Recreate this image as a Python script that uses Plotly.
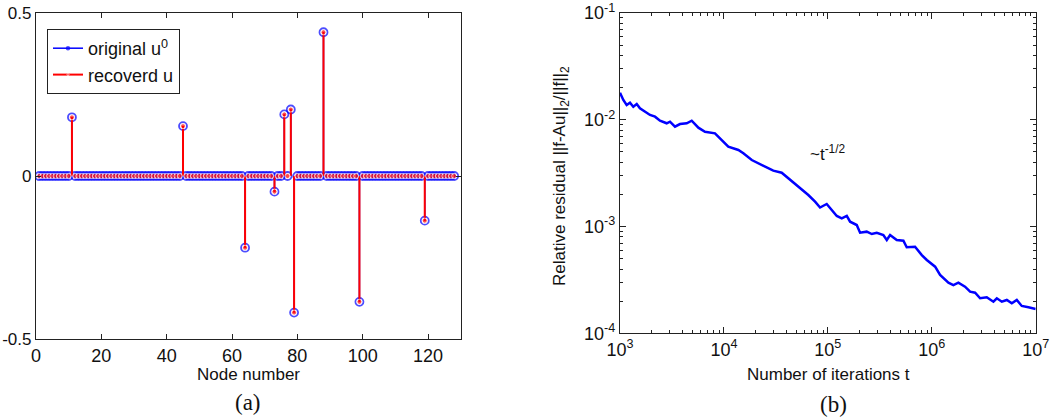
import plotly.graph_objects as go

# ---- data: panel (a) sparse recovery ----
nodes = list(range(1, 129))
spike_nodes = [11, 45, 64, 73, 76, 78, 79, 88, 99, 119]
spike_vals = [0.18, 0.153, -0.22, -0.048, 0.189, 0.204, -0.419, 0.441, -0.386, -0.137]
recovered_vals = [0.18, 0.153, -0.22, -0.048, 0.189, 0.204, -0.419, 0.441, -0.386, -0.137]

# ---- data: panel (b) relative residual vs iterations (log10 values) ----
log_iters = [3.000, 3.032, 3.064, 3.096, 3.128, 3.161, 3.192, 3.241, 3.289, 3.337,
             3.385, 3.449, 3.481, 3.529, 3.577, 3.642, 3.690, 3.754, 3.818, 3.914,
             3.979, 4.042, 4.139, 4.187, 4.268, 4.364, 4.412, 4.475, 4.556, 4.620,
             4.701, 4.749, 4.812, 4.877, 4.925, 4.989, 5.038, 5.086, 5.134, 5.182,
             5.214, 5.278, 5.310, 5.374, 5.423, 5.471, 5.534, 5.567, 5.599, 5.663,
             5.727, 5.759, 5.839, 5.904, 5.952, 6.032, 6.080, 6.160, 6.208, 6.256,
             6.320, 6.369, 6.417, 6.465, 6.529, 6.593, 6.626, 6.674, 6.722, 6.770,
             6.818, 6.866, 6.930, 6.978, 7.000]
log_residual = [-1.746, -1.815, -1.862, -1.840, -1.878, -1.852, -1.893, -1.924, -1.955, -1.971,
                -2.009, -2.033, -2.018, -2.065, -2.040, -2.033, -2.009, -2.074, -2.112, -2.127,
                -2.189, -2.252, -2.283, -2.314, -2.377, -2.424, -2.445, -2.477, -2.496, -2.548,
                -2.620, -2.658, -2.705, -2.767, -2.822, -2.789, -2.845, -2.901, -2.923, -2.901,
                -2.955, -2.986, -3.058, -3.048, -3.070, -3.058, -3.079, -3.126, -3.079, -3.126,
                -3.133, -3.194, -3.189, -3.267, -3.313, -3.376, -3.454, -3.526, -3.548, -3.526,
                -3.563, -3.610, -3.620, -3.672, -3.663, -3.704, -3.672, -3.704, -3.688, -3.719,
                -3.688, -3.744, -3.756, -3.766, -3.772]
iters = [10 ** v for v in log_iters]
residual = [10 ** v for v in log_residual]

x_ticks_a = [0, 20, 40, 60, 80, 100, 120]
y_ticks_a = [-0.5, 0, 0.5]
y_ticktext_a = ["-0.5", "0", "0.5"]
x_ticks_b = [1e3, 1e4, 1e5, 1e6, 1e7]
x_ticktext_b = ["10<sup>3</sup>", "10<sup>4</sup>", "10<sup>5</sup>", "10<sup>6</sup>", "10<sup>7</sup>"]
y_ticks_b = [1e-4, 1e-3, 1e-2, 1e-1]
y_ticktext_b = ["10<sup>-4</sup>", "10<sup>-3</sup>", "10<sup>-2</sup>", "10<sup>-1</sup>"]

FONT = "Liberation Sans, Arial, sans-serif"
SERIF = "Liberation Serif, Times New Roman, serif"
W, H = 1050, 418


def stem_xy(xn, vals, msize):
    xs, ys, sizes = [], [], []
    for n, v in zip(xn, vals):
        xs += [n, n, None]
        ys += [0, v, None]
        sizes += [0, msize, 0]
    return xs, ys, sizes


u0 = [0.0] * len(nodes)
u = [0.0] * len(nodes)
for n, v, r in zip(spike_nodes, spike_vals, recovered_vals):
    u0[n - 1] = v
    u[n - 1] = r

fig = go.Figure()

bx, by, bs = stem_xy(nodes, u0, 8)
fig.add_trace(go.Scatter(
    x=bx, y=by, mode="lines+markers", name="original u<sup>0</sup>",
    line=dict(color="#0000FF", width=1.5),
    marker=dict(symbol="circle-open", size=bs, color="#0000FF", line=dict(width=1.8)),
    xaxis="x", yaxis="y",
))
rx, ry, rs = stem_xy(nodes, u, 5)
fig.add_trace(go.Scatter(
    x=rx, y=ry, mode="lines+markers", name="recoverd u",
    line=dict(color="#FF0000", width=2),
    marker=dict(symbol="circle", size=rs, color="#FF0000"),
    xaxis="x", yaxis="y",
))

fig.add_trace(go.Scatter(
    x=iters, y=residual, mode="lines", showlegend=False,
    line=dict(color="#0000FF", width=2.5),
    xaxis="x2", yaxis="y2",
))

axis_common = dict(
    showgrid=False, zeroline=False, showline=True, linecolor="#222222", linewidth=1.3,
    mirror="ticks", ticks="inside", tickcolor="#222222", tickwidth=1.2,
    tickfont=dict(family=FONT, size=18, color="#111111"),
)

minor_x = [k * 10 ** e for e in range(3, 7) for k in range(2, 10)]
minor_y = [k * 10.0 ** e for e in range(-4, -1) for k in range(2, 10)]

fig.update_layout(
    width=W, height=H,
    margin=dict(l=0, r=0, t=0, b=0, autoexpand=False),
    paper_bgcolor="white", plot_bgcolor="white",
    font=dict(family=FONT, size=17, color="#111111"),
    xaxis=dict(domain=[36 / W, 460.7 / W], range=[0, 130], tickvals=x_ticks_a,
               ticklen=5, anchor="y", **axis_common),
    yaxis=dict(domain=[1 - 339 / H, 1 - 13 / H], range=[-0.5, 0.5], tickvals=y_ticks_a,
               ticktext=y_ticktext_a, ticklen=5, anchor="x", **axis_common),
    xaxis2=dict(domain=[620 / W, 1035.7 / W], type="log", range=[3, 7], tickvals=x_ticks_b,
                ticktext=x_ticktext_b, ticklen=6, anchor="y2",
                minor=dict(tickvals=minor_x, ticks="inside", ticklen=3, tickcolor="#222222"),
                **axis_common),
    yaxis2=dict(domain=[1 - 333.3 / H, 1 - 13 / H], type="log", range=[-4, -1], tickvals=y_ticks_b,
                ticktext=y_ticktext_b, ticklen=6, anchor="x2",
                minor=dict(tickvals=minor_y, ticks="inside", ticklen=3, tickcolor="#222222"),
                **axis_common),
    legend=dict(x=47 / W, y=1 - 29 / H, xanchor="left", yanchor="top",
                bgcolor="white", bordercolor="#222222", borderwidth=1,
                font=dict(family=FONT, size=18, color="#111111"),
                tracegroupgap=0, itemwidth=30),
    showlegend=True,
)
# slightly smaller labels on the left value axis so "-0.5" stays inside the page
fig.update_yaxes(tickfont_size=17, selector=dict(anchor="x"))

labels = [
    ("Node number", 248, 374, FONT, 17, 0),
    ("Number of iterations t", 828, 374, FONT, 17, 0),
    ("Relative residual ||f-Au||<sub>2</sub>/||f||<sub>2</sub>", 561, 176, FONT, 17, -90),
    ("~t<sup>-1/2</sup>", 828, 153, FONT, 17, 0),
    ("(a)", 248, 402, SERIF, 23, 0),
    ("(b)", 833, 404, SERIF, 23, 0),
]
for text, px, py, fam, size, ang in labels:
    fig.add_annotation(text=text, x=px / W, y=1 - py / H, xref="paper", yref="paper",
                       xanchor="center", yanchor="middle", textangle=ang,
                       showarrow=False, font=dict(family=fam, size=size, color="#111111"))

# page has a default body margin; drop it so the figure sits at the window corner
fig.write_html("out.html", config={"displayModeBar": False},
               post_script="document.body.style.margin='0';document.body.style.overflow='hidden';")
